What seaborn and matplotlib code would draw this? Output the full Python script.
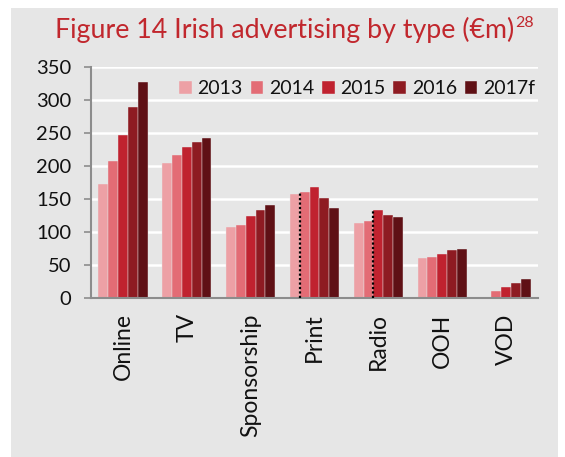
import matplotlib
matplotlib.use("Agg")
import matplotlib.pyplot as plt
from matplotlib.patches import Rectangle
import seaborn as sns
import numpy as np
import pandas as pd

categories = ["Online", "TV", "Sponsorship", "Print", "Radio", "OOH", "VOD"]
years = ["2013", "2014", "2015", "2016", "2017f"]
v2013 = [172, 205, 107, 158, 114, 60, np.nan]
v2014 = [207, 217, 111, 161, 116, 62, 11]
v2015 = [247, 229, 124, 168, 134, 67, 16]
v2016 = [289, 237, 133, 152, 126, 72, 23]
v2017 = [328, 242, 141, 137, 122, 75, 29]
yticks = [0, 50, 100, 150, 200, 250, 300, 350]
colors = ["#EDA0A5", "#E36C75", "#C0222F", "#8E1B22", "#5F1015"]
title_main = "Figure 14 Irish advertising by type (€m)"
title_sup = "28"

series = [v2013, v2014, v2015, v2016, v2017]
rows = []
for yr, vals in zip(years, series):
    for c, v in zip(categories, vals):
        rows.append({"type": c, "year": yr, "value": v})
df = pd.DataFrame(rows)

sns.set_theme(style="white")
plt.rcParams["font.family"] = ["Lato", "DejaVu Sans"]

bg = "#E6E6E6"
fig = plt.figure(figsize=(5.65, 4.57), dpi=100)
fig.patch.set_facecolor("white")
fig.add_artist(Rectangle((11 / 565, 0), (558 - 11) / 565, 1 - 8 / 457,
                         transform=fig.transFigure, facecolor=bg,
                         edgecolor="none", zorder=-10))

ax = fig.add_axes([91 / 565, 1 - 298 / 457, (538 - 91) / 565, (298 - 67) / 457])
ax.set_facecolor(bg)

sns.barplot(data=df, x="type", y="value", hue="year", palette=colors,
            width=0.77, gap=0, ax=ax, saturation=1, legend=True,
            edgecolor=bg, linewidth=0.3)

# dotted series-break markers
for yi, ci in [(1, 3), (2, 4)]:
    p = ax.containers[yi].patches[ci]
    ax.vlines(p.get_x(), 0, p.get_height(), colors="black",
              linestyles=(0, (1, 1)), linewidth=1.6, zorder=5)

ax.set_ylim(0, 350)
ax.set_yticks(yticks)
ax.set_xlim(-0.5, len(categories) - 0.5)
ax.yaxis.grid(True, color="white", linewidth=1.8)
ax.set_axisbelow(True)
ax.set_xlabel("")
ax.set_ylabel("")

ax.set_xticks(range(len(categories)))
ax.set_xticklabels(categories, rotation=90, fontsize=16.5)
ax.set_xticks(np.arange(-0.5, len(categories)), minor=True)
ax.tick_params(axis="x", which="major", length=0, pad=11)
ax.tick_params(axis="x", which="minor", length=5, width=1.2,
               color="#8C8C8C", direction="out")
ax.tick_params(axis="y", length=5, width=1.2, color="#8C8C8C",
               direction="out", labelsize=14.5, pad=9, left=True)
for lab in ax.get_yticklabels():
    lab.set_color("#111111")
for lab in ax.get_xticklabels():
    lab.set_color("#111111")

for s in ["top", "right"]:
    ax.spines[s].set_visible(False)
for s in ["left", "bottom"]:
    ax.spines[s].set_color("#8C8C8C")
    ax.spines[s].set_linewidth(1.5)

leg = ax.legend(ncol=5, loc="center right", frameon=False,
                bbox_to_anchor=(543 / 565, 1 - 89 / 457),
                bbox_transform=fig.transFigure, fontsize=14,
                handlelength=0.65, handleheight=0.65, handletextpad=0.3,
                columnspacing=0.4, borderaxespad=0)
for t in leg.get_texts():
    t.set_color("#111111")

t = fig.text(285 / 565, 1 - 38 / 457, title_main, ha="center", va="baseline",
             fontsize=19.3, color="#C1272D")
fig.canvas.draw()
bb = t.get_window_extent()
fig.text(bb.x1 / fig.bbox.width + 0.001, (bb.y0 + bb.height * 0.6) / fig.bbox.height,
         title_sup, ha="left", va="baseline", fontsize=11.5, color="#C1272D")

fig.savefig("out.png", dpi=100, facecolor=fig.get_facecolor())
